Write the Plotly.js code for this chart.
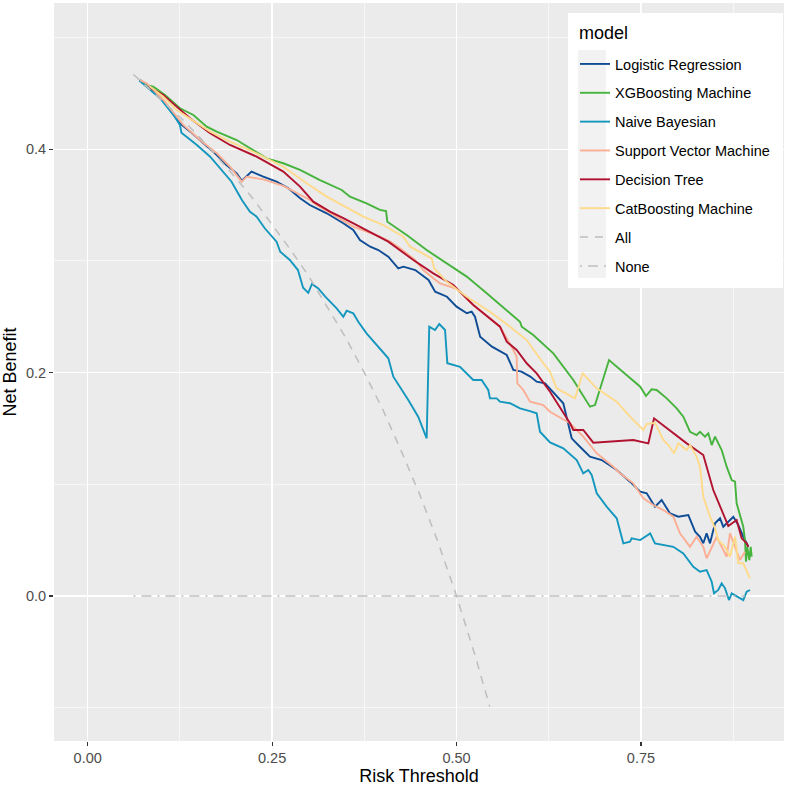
<!DOCTYPE html>
<html>
<head>
<meta charset="utf-8">
<script src="https://cdn.plot.ly/plotly-3.0.1.min.js"></script>
<style>html,body{margin:0;padding:0;background:#fff;}#chart{width:789px;height:786px;}</style>
</head>
<body>
<div id="chart"></div>
<script>
// ---- data ----
const lrX = [0.071,0.080,0.098,0.116,0.125,0.139,0.157,0.175,0.188,0.202,0.209,0.222,0.238,0.256,0.272,0.288,0.301,0.324,0.3465,0.360,0.369,0.383,0.394,0.4075,0.421,0.428,0.444,0.462,0.471,0.487,0.500,0.514,0.5205,0.525,0.532,0.548,0.568,0.577,0.588,0.600,0.6086,0.620,0.6447,0.6515,0.6561,0.6673,0.6809,0.6968,0.7171,0.7351,0.749,0.7578,0.769,0.778,0.7894,0.8006,0.8142,0.8234,0.830,0.8345,0.839,0.8436,0.8504,0.8572,0.8616,0.8752,0.8819,0.8887,0.8955];
const lrY = [0.462,0.4576,0.4471,0.4307,0.4233,0.4158,0.4054,0.3949,0.386,0.3785,0.3719,0.380,0.3755,0.371,0.3651,0.3561,0.3501,0.3427,0.3338,0.3278,0.3188,0.3128,0.3098,0.3038,0.2934,0.2949,0.2919,0.283,0.2725,0.268,0.2591,0.2532,0.2546,0.2501,0.2322,0.2233,0.2158,0.2024,0.2009,0.1965,0.1919,0.1905,0.1726,0.1547,0.1412,0.1337,0.1247,0.1218,0.1128,0.1024,0.0934,0.092,0.080,0.086,0.074,0.071,0.0725,0.0576,0.0531,0.0472,0.0561,0.0472,0.0651,0.0696,0.0621,0.071,0.0636,0.0531,0.0441];

const xgbX = [0.071,0.0777,0.0889,0.1048,0.1251,0.1432,0.1613,0.1749,0.202,0.229,0.2426,0.2652,0.2878,0.3149,0.3443,0.3556,0.378,0.3962,0.4044,0.4062,0.4324,0.4595,0.4866,0.5138,0.5409,0.568,0.586,0.5883,0.604,0.6312,0.6583,0.6809,0.6877,0.7067,0.7306,0.749,0.7568,0.7645,0.7713,0.7849,0.7984,0.8074,0.8165,0.8255,0.830,0.8368,0.8413,0.8459,0.8504,0.8594,0.8662,0.873,0.8775,0.8797,0.8887,0.891,0.8924,0.8941,0.8969,0.8987,0.9001];
const xgbY = [0.462,0.4576,0.4561,0.4486,0.4367,0.4307,0.4203,0.4158,0.4083,0.3979,0.3919,0.3875,0.3815,0.3725,0.3636,0.3576,0.3516,0.3457,0.3448,0.3352,0.3233,0.3098,0.2979,0.286,0.2711,0.2561,0.2456,0.2412,0.2337,0.2173,0.1934,0.1695,0.171,0.2113,0.1979,0.1874,0.1791,0.1851,0.1845,0.177,0.1681,0.1606,0.1471,0.1442,0.1471,0.1427,0.1457,0.1352,0.1427,0.1307,0.1158,0.1039,0.1024,0.083,0.0621,0.0501,0.0307,0.0441,0.0322,0.0441,0.0352];

const nbX = [0.070,0.098,0.118,0.125,0.127,0.148,0.166,0.182,0.195,0.209,0.220,0.229,0.240,0.256,0.261,0.274,0.285,0.292,0.299,0.304,0.3126,0.322,0.3375,0.3465,0.351,0.360,0.3668,0.378,0.394,0.4075,0.4143,0.4234,0.4346,0.448,0.4595,0.463,0.4708,0.4766,0.4844,0.4875,0.4956,0.5047,0.5227,0.534,0.543,0.5453,0.5544,0.5589,0.5725,0.586,0.5995,0.6086,0.6131,0.6267,0.6447,0.6629,0.6718,0.6786,0.6832,0.690,0.7035,0.7171,0.7261,0.7351,0.7374,0.749,0.7625,0.769,0.7939,0.8074,0.821,0.830,0.839,0.8459,0.849,0.8548,0.8594,0.864,0.8693,0.873,0.8887,0.8933,0.8978];
const nbY = [0.4615,0.4457,0.4292,0.4218,0.4149,0.4039,0.3934,0.3815,0.371,0.3546,0.3441,0.3397,0.3293,0.3173,0.3083,0.3009,0.2919,0.276,0.2715,0.2794,0.2755,0.268,0.2576,0.2501,0.2555,0.2531,0.2456,0.2352,0.2233,0.2129,0.1964,0.1874,0.1755,0.1606,0.1412,0.2412,0.2382,0.2436,0.2382,0.2084,0.2069,0.2053,0.1934,0.1934,0.1845,0.177,0.177,0.174,0.1726,0.1681,0.1655,0.1636,0.1471,0.1375,0.1322,0.1218,0.1099,0.1128,0.1084,0.092,0.080,0.0696,0.0472,0.0486,0.0516,0.0501,0.0561,0.0472,0.0441,0.0382,0.0262,0.0218,0.0233,0.0128,0.0024,0.0054,0.0114,0.0069,-0.0036,0.0024,-0.0036,0.0039,0.0054];

const svmX = [0.071,0.080,0.1025,0.1296,0.1522,0.1749,0.1929,0.2088,0.2155,0.238,0.2652,0.2833,0.3014,0.3104,0.3329,0.360,0.3782,0.3962,0.4098,0.4234,0.4437,0.455,0.4685,0.4776,0.500,0.5227,0.5453,0.5544,0.5589,0.577,0.5815,0.5824,0.5905,0.5996,0.6086,0.6176,0.6267,0.6538,0.6718,0.690,0.7125,0.7216,0.7396,0.7532,0.7667,0.7803,0.7939,0.8029,0.8165,0.8255,0.8345,0.839,0.8527,0.8662,0.8707,0.8775,0.8842,0.891];
const svmY = [0.462,0.459,0.4442,0.4218,0.4083,0.3964,0.3844,0.371,0.3755,0.3731,0.3672,0.3606,0.3546,0.3501,0.3412,0.3308,0.3263,0.3218,0.3173,0.3114,0.3009,0.2919,0.2845,0.280,0.275,0.2606,0.2487,0.2442,0.2412,0.2203,0.2143,0.1905,0.1845,0.174,0.1726,0.171,0.165,0.1547,0.1427,0.1278,0.1158,0.1099,0.1009,0.0875,0.0815,0.077,0.071,0.0561,0.0441,0.0531,0.0441,0.0338,0.0531,0.0352,0.0561,0.0441,0.0322,0.0397];

const dtX = [0.085,0.1025,0.1206,0.1387,0.166,0.1929,0.229,0.2652,0.2878,0.3058,0.3284,0.3465,0.4075,0.4414,0.4685,0.4956,0.5227,0.5453,0.5589,0.568,0.5815,0.5951,0.6086,0.6267,0.6538,0.6583,0.6718,0.6854,0.7396,0.760,0.7645,0.7677,0.812,0.8345,0.848,0.8684,0.8797,0.8865,0.8933,0.8955];
const dtY = [0.455,0.4486,0.4382,0.4278,0.4143,0.4039,0.3934,0.380,0.3666,0.3531,0.3442,0.3383,0.3173,0.3009,0.2889,0.2785,0.2606,0.2487,0.2412,0.2277,0.2203,0.2084,0.1994,0.183,0.1547,0.1487,0.1487,0.1373,0.1397,0.1367,0.1516,0.1591,0.1367,0.1263,0.0949,0.0627,0.0681,0.0517,0.0472,0.0441];

const cbX = [0.0845,0.1025,0.1206,0.1478,0.166,0.1929,0.229,0.2652,0.2833,0.2968,0.324,0.3737,0.4007,0.4279,0.437,0.4663,0.4695,0.4866,0.5138,0.5453,0.5725,0.5951,0.6176,0.6267,0.6357,0.6606,0.671,0.690,0.7171,0.7351,0.7532,0.7578,0.769,0.7803,0.7871,0.7948,0.8006,0.812,0.8165,0.8255,0.830,0.8345,0.8436,0.8504,0.8548,0.864,0.8707,0.8775,0.8819,0.8887,0.8978];
const cbY = [0.4561,0.4471,0.4352,0.4233,0.4158,0.4069,0.3964,0.3844,0.3755,0.3696,0.3576,0.3397,0.3322,0.3218,0.3128,0.3024,0.2935,0.2815,0.268,0.2546,0.2412,0.2292,0.2084,0.2009,0.186,0.177,0.1994,0.186,0.174,0.1606,0.1487,0.154,0.1552,0.1397,0.1352,0.1278,0.1367,0.1307,0.1352,0.1247,0.1158,0.0889,0.071,0.0606,0.0501,0.0441,0.0352,0.0531,0.0293,0.0293,0.0158];

const allX = [0.062,0.075,0.100,0.125,0.150,0.175,0.200,0.225,0.250,0.275,0.300,0.325,0.350,0.375,0.400,0.425,0.450,0.475,0.500,0.525,0.545];
const allY = [0.467,0.459,0.444,0.429,0.412,0.394,0.375,0.355,0.333,0.310,0.286,0.259,0.231,0.200,0.167,0.130,0.091,0.048,0.000,-0.053,-0.099];

const noneX = [0.062,0.891];
const noneY = [0,0];

const modelNames = ["Logistic Regression","XGBoosting Machine","Naive Bayesian","Support Vector Machine","Decision Tree","CatBoosting Machine","All","None"];
const legendTitle = "model";
const xTicks = [0, 0.25, 0.5, 0.75];
const xTickText = ["0.00","0.25","0.50","0.75"];
const yTicks = [0, 0.2, 0.4];
const yTickText = ["0.0","0.2","0.4"];

// ---- styles ----
const colors = ["#0F4C96","#45B33C","#1497BE","#FBAE93","#B1122F","#FEDA8A","#BEBEBE","#BEBEBE"];
const xs = [lrX,xgbX,nbX,svmX,dtX,cbX,allX,noneX];
const ys = [lrY,xgbY,nbY,svmY,dtY,cbY,allY,noneY];
const dashes = ["solid","solid","solid","solid","solid","solid","8px,7px","2px,6px,10px,6px"];

const traces = modelNames.map((n,i)=>({
  x: xs[i], y: ys[i], name: n, type: "scatter", mode: "lines",
  legendgroup: "g"+i,
  line: {color: colors[i], width: i<6 ? 1.9 : 1.5, dash: dashes[i]},
  hoverinfo: "skip"
}));

// plot area: x 54..784, y 3..741
const PX0 = 54, PW = 730, PY0 = 3, PH = 738;
const px = v => (v - PX0)/PW;
const py = v => (PY0 + PH - v)/PH;

const layout = {
  width: 789, height: 786,
  margin: {l: PX0, r: 789-PX0-PW, t: PY0, b: 786-PY0-PH, pad: 0},
  paper_bgcolor: "#FFFFFF",
  plot_bgcolor: "#EBEBEB",
  font: {family: "Liberation Sans, Arial, sans-serif", color: "#4D4D4D", size: 14.5},
  showlegend: true,
  xaxis: {
    range: [-0.0457, 0.9439], tickvals: xTicks, ticktext: xTickText,
    showgrid: true, gridcolor: "#FFFFFF", gridwidth: 1.3,
    minor: {showgrid: true, gridcolor: "#FFFFFF", gridwidth: 0.6, tickvals: [0.125,0.375,0.625,0.875]},
    zeroline: false, showline: false,
    ticks: "outside", ticklen: 4, tickwidth: 1.1, tickcolor: "#333333",
    tickfont: {size: 14.5, color: "#4D4D4D"},
    title: {text: "Risk Threshold", font: {size: 18, color: "#000000"}, standoff: 8}
  },
  yaxis: {
    range: [-0.1298, 0.531], tickvals: yTicks, ticktext: yTickText,
    showgrid: true, gridcolor: "#FFFFFF", gridwidth: 1.3,
    minor: {showgrid: true, gridcolor: "#FFFFFF", gridwidth: 0.6, tickvals: [-0.1,0.1,0.3,0.5]},
    zeroline: false, showline: false,
    ticks: "outside", ticklen: 4, tickwidth: 1.1, tickcolor: "#333333",
    tickfont: {size: 14.5, color: "#4D4D4D"},
    title: {text: "Net Benefit", font: {size: 18, color: "#000000"}, standoff: 8}
  },
  legend: {
    x: px(575), y: py(48), xanchor: "left", yanchor: "top",
    bgcolor: "rgba(0,0,0,0)", borderwidth: 0,
    font: {size: 14.5, color: "#000000"},
    traceorder: "grouped", tracegroupgap: 7, itemwidth: 30
  },
  annotations: [
    {text: legendTitle, xref: "paper", yref: "paper", x: px(577), y: py(33),
     xanchor: "left", yanchor: "middle", showarrow: false, font: {size: 18, color: "#000000"}}
  ],
  shapes: [
    {type: "rect", xref: "paper", yref: "paper", x0: px(568), x1: px(783), y0: py(288), y1: py(13),
     fillcolor: "#FFFFFF", line: {width: 0}, layer: "above"},
    {type: "rect", xref: "paper", yref: "paper", x0: px(578), x1: px(606), y0: py(278), y1: py(50),
     fillcolor: "#F2F2F2", line: {width: 0}, layer: "above"}
  ]
};

Plotly.newPlot("chart", traces, layout, {displayModeBar: false, staticPlot: true});
</script>
</body>
</html>
